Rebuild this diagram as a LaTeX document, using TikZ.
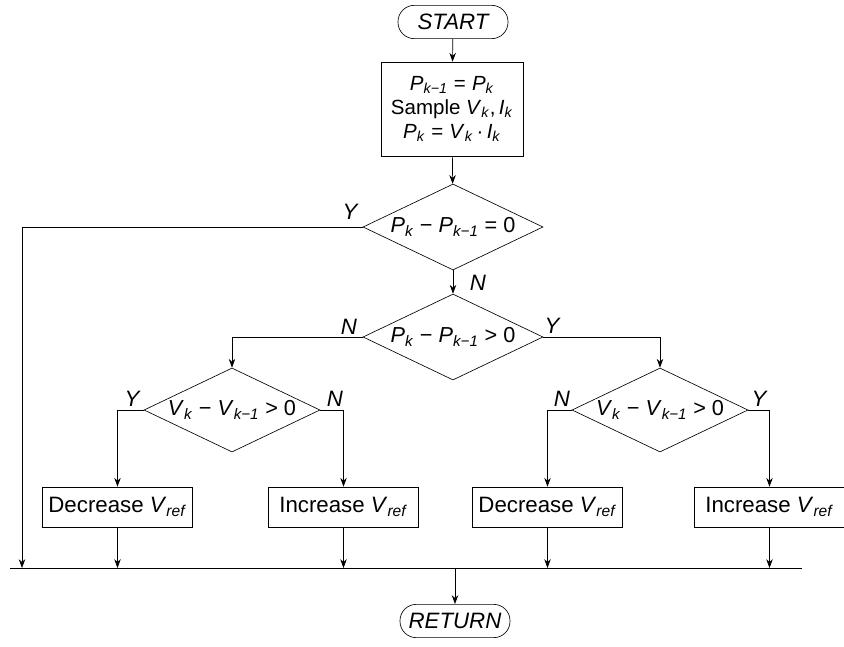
\documentclass[tikz,border=0pt]{standalone}
\usepackage{fontspec}
\setmainfont{Liberation Sans}
\usetikzlibrary{arrows.meta,shapes.geometric}
\newcommand{\sv}[2]{\textit{#1}\textsubscript{\textit{#2}}}

\begin{document}
\begin{tikzpicture}[x=0.03cm,y=-0.03cm,>={Stealth[length=7.5pt,width=5.5pt]},line width=0.55pt,
  term/.style={draw,rounded corners=0.49cm,minimum width=3.3cm,minimum height=1cm,font=\fontsize{19}{22}\selectfont\itshape},
  proc/.style={draw,align=center,inner sep=2pt,minimum width=4.5cm,minimum height=1.2cm,font=\fontsize{19}{22}\selectfont},
  cond/.style={draw,diamond,aspect=2.1,inner sep=0pt,minimum width=5.4cm,minimum height=2.58cm,font=\fontsize{18.5}{22}\selectfont},
  lbl/.style={font=\fontsize{19}{22}\selectfont\itshape}]
\useasboundingbox (0,0) rectangle (844,646);
\node[term] (start) at (453,22) {START};
\node[proc,minimum width=4.26cm,minimum height=2.82cm,font=\fontsize{17.5}{20.5}\selectfont] (init) at (452,109)
  {\sv{P}{k−1}\hspace{0.3em}=\hspace{0.3em}\sv{P}{k}\\Sample \sv{V}{k},\,\sv{I}{k}\\\sv{P}{k}\hspace{0.3em}=\hspace{0.3em}\sv{V}{k}\,·\,\sv{I}{k}};
\node[cond] (d1) at (453,227) {\sv{P}{k} − \sv{P}{k−1} = 0};
\node[cond] (d2) at (453,337) {\sv{P}{k} − \sv{P}{k−1} > 0};
\node[cond,minimum width=5.28cm,minimum height=2.52cm] (d3) at (232,410) {\sv{V}{k} − \sv{V}{k−1} > 0};
\node[cond,minimum width=5.28cm,minimum height=2.52cm] (d4) at (660,410) {\sv{V}{k} − \sv{V}{k−1} > 0};
\node[proc] (dec1) at (117.5,507) {Decrease \sv{V}{ref}};
\node[proc] (inc1) at (343.5,507) {Increase \sv{V}{ref}};
\node[proc] (dec2) at (547.5,507) {Decrease \sv{V}{ref}};
\node[proc] (inc2) at (769.5,507) {Increase \sv{V}{ref}};
\node[term] (ret) at (455,621) {RETURN};
\coordinate (busL) at (10,568); \coordinate (busR) at (802,568);
\coordinate (yend) at (22,568);
% branch labels
\node[lbl] (y1) at (350,212) {Y}; \node[lbl] (n1) at (478,283) {N};
\node[lbl] (n2) at (349,327) {N}; \node[lbl] (y2) at (552,326) {Y};
\node[lbl] (y3) at (132,399) {Y}; \node[lbl] (n3) at (335,399) {N};
\node[lbl] (n4) at (562,399) {N}; \node[lbl] (y4) at (759,399) {Y};
% connectors
\draw (busL) -- (busR);
\draw[->] (start) -- (init);
\draw[->] (init) -- (d1);
\draw[->] (d1) -- (d2);
\draw[->] (d1.west) -| (yend);
\draw[->] (d2.west) -| (d3);
\draw[->] (d2.east) -| (d4);
\draw[->] (d3.west) -| (dec1);
\draw[->] (d3.east) -| (inc1);
\draw[->] (d4.west) -| (dec2);
\draw[->] (d4.east) -| (inc2);
\foreach \n in {dec1,inc1,dec2,inc2} \draw[->] (\n) -- (\n |- busL);
\draw[->] (ret |- busL) -- (ret);
\end{tikzpicture}
\end{document}
